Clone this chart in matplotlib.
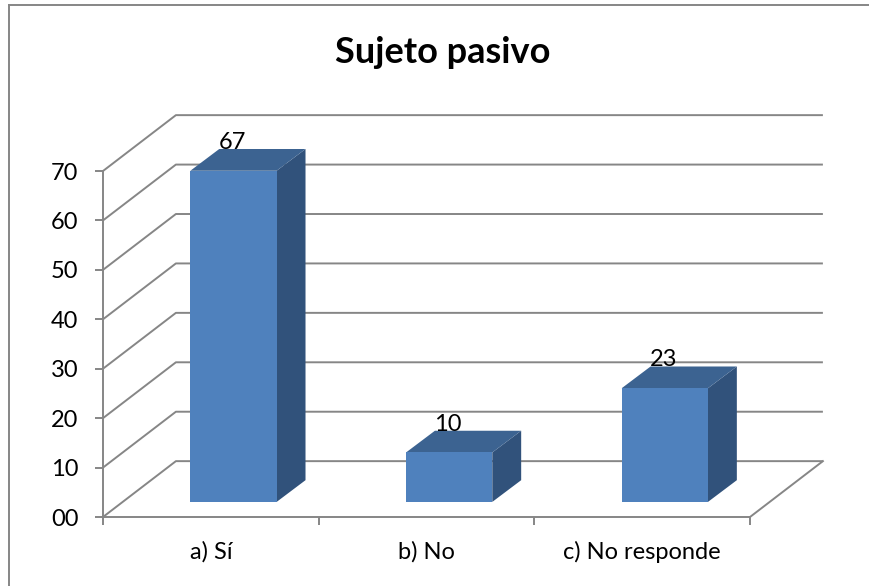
import matplotlib
matplotlib.use("Agg")
import matplotlib.pyplot as plt
from matplotlib.patches import Rectangle, Polygon
from matplotlib.lines import Line2D

plt.rcParams['font.family'] = ['Lato', 'DejaVu Sans']

# ---- data ----
title = "Sujeto pasivo"
categories = ["a) Sí", "b) No", "c) No responde"]
values = [67, 10, 23]
yticks = [0, 10, 20, 30, 40, 50, 60, 70]
ytick_labels = ["00", "10", "20", "30", "40", "50", "60", "70"]

# ---- style ----
W, H = 870, 586
grid_c = "#868686"
front_c = "#4F81BD"
top_c = "#3C6391"
side_c = "#31527B"
DX, DY = 0.338, 11.3        # wall depth (category units, value units)
OX, OY = 0.105, 3.05        # bar offset into depth
BDX, BDY = 0.134, 4.4       # bar depth
BW = 0.40                   # bar width
FS = 17

fig = plt.figure(figsize=(W / 100, H / 100), dpi=100)
ax = fig.add_axes([103 / W, (H - 517) / H, 647 / W, 346 / H])
ax.set_xlim(-0.5, len(categories) - 0.5)
ax.set_ylim(0, 70)
ax.patch.set_visible(False)

for s in ["top", "right"]:
    ax.spines[s].set_visible(False)
for s in ["left", "bottom"]:
    ax.spines[s].set_color(grid_c)
    ax.spines[s].set_linewidth(1.4)

xmin, xmax = -0.5, len(categories) - 0.5
# walls: gridlines on side and back wall
for v in yticks:
    ax.plot([xmin, xmin + DX, xmax + DX], [v, v + DY, v + DY],
            color=grid_c, lw=1.4, clip_on=False, zorder=1, solid_capstyle='butt')
# floor right edge
ax.plot([xmax, xmax + DX], [0, DY], color=grid_c, lw=1.4, clip_on=False, zorder=1)

# bars
for i, v in enumerate(values):
    x0 = i - BW / 2 + OX
    x1 = x0 + BW
    ax.add_patch(Polygon([(x1, OY), (x1 + BDX, OY + BDY), (x1 + BDX, OY + v + BDY), (x1, OY + v)],
                         closed=True, facecolor=side_c, edgecolor='none', clip_on=False, zorder=3))
    ax.add_patch(Polygon([(x0, OY + v), (x1, OY + v), (x1 + BDX, OY + v + BDY), (x0 + BDX, OY + v + BDY)],
                         closed=True, facecolor=top_c, edgecolor='none', clip_on=False, zorder=3))
    ax.add_patch(Rectangle((x0, OY), BW, v, facecolor=front_c, edgecolor='none',
                           clip_on=False, zorder=4))
    ax.text(i + OX - 0.005, OY + v + BDY, str(v), ha='center', va='baseline',
            fontsize=FS, color='black', zorder=5, clip_on=False)

# ticks
ax.set_yticks(yticks)
ax.set_yticklabels(ytick_labels)
ax.tick_params(axis='y', length=5.8, width=1.4, color=grid_c, pad=12, labelsize=FS)
ax.set_xticks([k - 0.5 for k in range(len(categories) + 1)])
ax.set_xticklabels([""] * (len(categories) + 1))
ax.tick_params(axis='x', which='major', length=5.5, width=1.4, color=grid_c, direction='out')
ax.set_xticks(range(len(categories)), minor=True)
ax.set_xticklabels(categories, minor=True)
ax.tick_params(axis='x', which='minor', length=0, pad=17, labelsize=FS)

fig.text(443 / W, (H - 63) / H, title, ha='center', va='baseline',
         fontsize=26, fontweight='bold')

# outer border (left and top)
fig.add_artist(Line2D([9 / W, 9 / W], [0, (H - 5) / H], color=grid_c, lw=1.4))
fig.add_artist(Line2D([9 / W, 1], [(H - 5) / H, (H - 5) / H], color=grid_c, lw=1.4))

fig.savefig("out.png", dpi=100)
